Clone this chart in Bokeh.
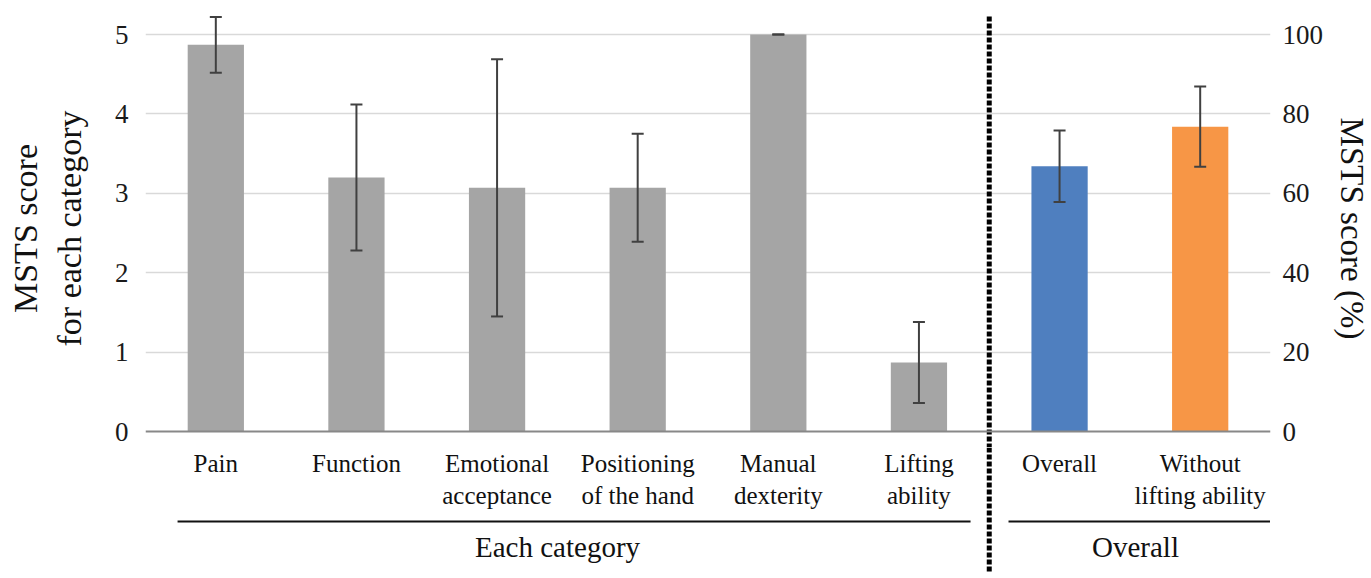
from bokeh.plotting import figure
from bokeh.layouts import column
from bokeh.models import (Range1d, LinearAxis, FixedTicker, Grid, Span,
                          ColumnDataSource, Whisker, TeeHead)
from bokeh.core.properties import value
from bokeh.embed import file_html
from bokeh.resources import INLINE

# ---------------- data ----------------
score_cats = ["Pain", "Function", "Emotional\nacceptance", "Positioning\nof the hand",
              "Manual\ndexterity", "Lifting\nability"]
score_means = [4.87, 3.20, 3.07, 3.07, 5.00, 0.87]
score_sd = [0.35, 0.92, 1.62, 0.68, 0.00, 0.51]

overall_cats = ["Overall", "Without\nlifting ability"]
overall_pct = [66.8, 76.8]
overall_sd = [9.0, 10.1]
overall_colors = ["#4f7fbf", "#f79646"]

group_labels = ["Each category", "Overall"]
left_ticks = [0, 1, 2, 3, 4, 5]
right_ticks = [0, 20, 40, 60, 80, 100]
left_title = "MSTS score\nfor each category"
right_title = "MSTS score (%)"

# ---------------- layout ----------------
FONT = value("Liberation Serif")
n_s = len(score_cats)
n_all = n_s + len(overall_cats)
y_split = -0.2            # boundary between chart panel and label panel
y_top = 5.315
y_bottom = -1.788
pct_factor = 100 / 5
x_range = Range1d(0, n_all)

top = figure(frame_width=1125, frame_height=438, output_backend="svg", toolbar_location=None,
             x_range=x_range, y_range=Range1d(y_split, y_top),
             x_axis_location=None, y_axis_location=None,
             min_border_left=145, min_border_right=0, min_border_top=9, min_border_bottom=0)
top.outline_line_color = None
for g in top.grid:
    g.visible = False
top.extra_y_ranges = {"pct": Range1d(y_split * pct_factor, y_top * pct_factor)}

top.add_layout(Grid(dimension=1, ticker=FixedTicker(ticks=left_ticks[1:]),
                    grid_line_color="#d9d9d9", grid_line_width=1.5))


def style_axis(ax, standoff, title_size):
    ax.axis_line_color = None
    ax.major_tick_line_color = None
    ax.minor_tick_line_color = None
    ax.major_tick_out = 0
    ax.major_tick_in = 0
    ax.major_label_standoff = standoff
    ax.major_label_text_font = "Liberation Serif"
    ax.major_label_text_font_size = "27px"
    ax.major_label_text_color = "#1a1a1a"
    ax.axis_label_text_font = "Liberation Serif"
    ax.axis_label_text_font_style = "normal"
    ax.axis_label_text_font_size = title_size
    ax.axis_label_text_color = "#111111"
    ax.axis_label_text_line_height = 1.2


lax = LinearAxis(ticker=FixedTicker(ticks=left_ticks), axis_label=left_title)
style_axis(lax, 17, "34px")
lax.axis_label_standoff = 24
top.add_layout(lax, "left")

rax = LinearAxis(y_range_name="pct", ticker=FixedTicker(ticks=right_ticks),
                 axis_label=right_title)
style_axis(rax, 12, "33px")
rax.axis_label_standoff = 8
top.add_layout(rax, "right")

sx = [i + 0.5 for i in range(n_s)]
ox = [n_s + i + 0.5 for i in range(len(overall_cats))]

top.vbar(x=sx, top=score_means, bottom=0, width=0.4, fill_color="#a5a5a5", line_color=None)
top.vbar(x=ox, top=overall_pct, bottom=0, width=0.4, fill_color=overall_colors,
         line_color=None, y_range_name="pct")

top.add_layout(Span(location=0, dimension="width", line_color="#888888", line_width=2))

src_s = ColumnDataSource(dict(x=sx,
                              up=[m + s for m, s in zip(score_means, score_sd)],
                              lo=[m - s for m, s in zip(score_means, score_sd)]))
src_o = ColumnDataSource(dict(x=ox,
                              up=[m + s for m, s in zip(overall_pct, overall_sd)],
                              lo=[m - s for m, s in zip(overall_pct, overall_sd)]))
for src, rn in ((src_s, "default"), (src_o, "pct")):
    top.add_layout(Whisker(source=src, base="x", upper="up", lower="lo", dimension="height",
                           line_color="#404040", line_width=2, y_range_name=rn, level="overlay",
                           upper_head=TeeHead(size=12, line_color="#404040", line_width=2),
                           lower_head=TeeHead(size=12, line_color="#404040", line_width=2)))

top.segment(x0=[n_s], y0=[5.227], x1=[n_s], y1=[y_split], line_color="black",
            line_width=5, line_dash="5 2")

# ---------------- label panel ----------------
bot = figure(frame_width=1125, frame_height=126, output_backend="svg", toolbar_location=None,
             x_range=x_range, y_range=Range1d(y_bottom, y_split),
             x_axis_location=None, y_axis_location=None,
             min_border_left=145, min_border_right=0, min_border_top=0, min_border_bottom=0)
bot.outline_line_color = None
for g in bot.grid:
    g.visible = False

bot.text(x=sx + ox, y=[-0.227] * n_all, text=score_cats + overall_cats,
         text_align="center", text_baseline="top", text_font=FONT,
         text_font_size="25px", text_line_height=1.2, text_color="#111111")

bot.segment(x0=[0.228, n_s + 0.137], y0=[-1.134, -1.134], x1=[n_s - 0.133, n_all],
            y1=[-1.134, -1.134], line_color="#111111", line_width=2)
bot.text(x=[n_s / 2 - 0.07, n_s + len(overall_cats) / 2 + 0.04], y=[-1.448, -1.448],
         text=group_labels, text_align="center", text_baseline="middle",
         text_font=FONT, text_font_size="29px", text_color="#111111")

bot.segment(x0=[n_s], y0=[y_split], x1=[n_s], y1=[y_bottom], line_color="black",
            line_width=5, line_dash="5 2")

layout = column(top, bot, spacing=0)
open("out.html", "w").write(file_html(layout, INLINE))
